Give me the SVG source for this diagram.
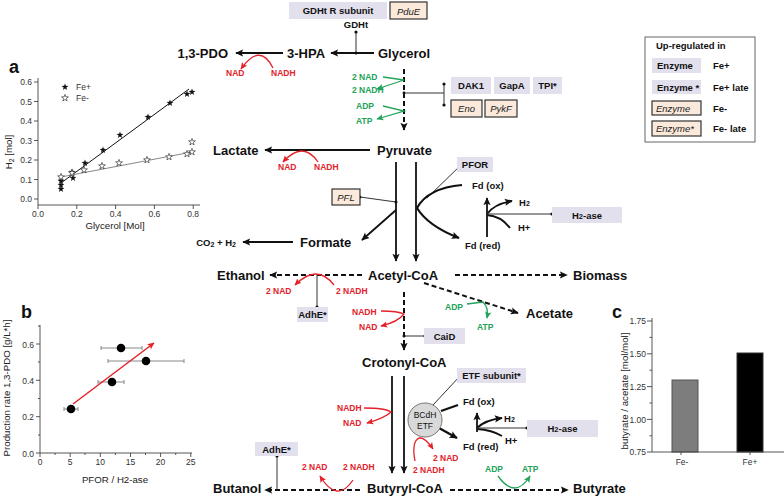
<svg xmlns="http://www.w3.org/2000/svg" width="784" height="498" viewBox="0 0 784 498">
<defs>
<marker id="ak" viewBox="0 0 10 10" refX="9" refY="5" markerWidth="8" markerHeight="8" markerUnits="userSpaceOnUse" orient="auto"><path d="M0,0.5 L10,5 L0,9.5 L2,5 z" fill="#111"/></marker>
<marker id="ar" viewBox="0 0 10 10" refX="9" refY="5" markerWidth="7" markerHeight="7" markerUnits="userSpaceOnUse" orient="auto"><path d="M0,0.5 L10,5 L0,9.5 L2,5 z" fill="#e3222b"/></marker>
<marker id="ag" viewBox="0 0 10 10" refX="9" refY="5" markerWidth="7" markerHeight="7" markerUnits="userSpaceOnUse" orient="auto"><path d="M0,0.5 L10,5 L0,9.5 L2,5 z" fill="#22a359"/></marker>
<path id="star" d="M0,-3.6 L0.85,-1.17 L3.42,-1.11 L1.38,0.45 L2.12,2.91 L0,1.45 L-2.12,2.91 L-1.38,0.45 L-3.42,-1.11 L-0.85,-1.17 Z"/>
</defs>
<style>
text{font-family:"Liberation Sans",Arial,sans-serif}
.m{font-size:13px;font-weight:bold;fill:#111}
.e{font-size:9.5px;font-weight:bold;fill:#111}
.ei{font-size:9.5px;font-style:italic;fill:#222}
.r{font-size:8.5px;font-weight:bold;fill:#e3222b}
.g{font-size:8.5px;font-weight:bold;fill:#22a359}
.lb{fill:#e3e0ee}
.pb{fill:#fbeadb;stroke:#333;stroke-width:1.2}
.ln{fill:none;stroke:#111;stroke-width:1.8}
.bl{fill:none;stroke:#111;stroke-width:2.2}
.ds{fill:none;stroke:#111;stroke-width:2;stroke-dasharray:5 3}
.th{fill:none;stroke:#333;stroke-width:1}
.rc{fill:none;stroke:#e3222b;stroke-width:1.3}
.gc{fill:none;stroke:#22a359;stroke-width:1.3}
.ax{fill:none;stroke:#444;stroke-width:0.9}
.tk{font-size:8.5px;fill:#333}
.al{font-size:9.7px;fill:#222}
.dot{fill:#111}
.pl{font-size:18px;font-weight:bold;fill:#111}
</style>
<rect width="784" height="498" fill="#fff"/>

<!-- ========== Connectors ========== -->
<g id="connectors">
  <!-- top -->
  <path class="th" d="M356,32 V53"/>
  <circle class="dot" cx="356" cy="32" r="1.6"/><circle class="dot" cx="356" cy="53" r="1.6"/>
  <path class="ln" d="M374,53 H331" marker-end="url(#ak)"/>
  <path class="ln" d="M283,53 H236" marker-end="url(#ak)"/>
  <path class="rc" d="M273,68 Q260,42 241,69" marker-end="url(#ar)"/>
  <path class="ds" d="M404,69 V130" marker-end="url(#ak)"/>
  <path class="gc" d="M383,77 L404,80 L377,89" marker-end="url(#ag)"/>
  <path class="gc" d="M383,106 L404,111 L377,119" marker-end="url(#ag)"/>
  <path class="th" d="M404,93 H444 M444,84 V105"/>
  <circle class="dot" cx="444" cy="84" r="1.6"/><circle class="dot" cx="444" cy="105" r="1.6"/><circle class="dot" cx="404" cy="93" r="1.4"/>
  <!-- pyruvate -->
  <path class="ln" d="M370,150 H265" marker-end="url(#ak)"/>
  <path class="rc" d="M318,162 Q303,140 283,162" marker-end="url(#ar)"/>
  <path class="ln" d="M396,162 V261" marker-end="url(#ak)"/>
  <path class="ln" d="M416,162 V261" marker-end="url(#ak)"/>
  <path class="th" d="M360,197 L396,202"/>
  <circle class="dot" cx="360" cy="197" r="1.5"/><circle class="dot" cx="396" cy="202" r="1.5"/>
  <path class="ln" d="M396,210 L362,240" marker-end="url(#ak)"/>
  <path class="ln" d="M293,242 H243" marker-end="url(#ak)"/>
  <path class="th" d="M427,198 L462,164"/>
  <circle class="dot" cx="462" cy="164" r="1.6"/>
  <path class="bl" d="M417,208 Q428,188 462,185"/>
  <path class="bl" d="M417,208 Q428,226 459,238" marker-end="url(#ak)"/>
  <path class="ln" d="M487,237 V198" marker-end="url(#ak)"/>
  <path class="ln" d="M487,214 Q494,204 512,201" marker-end="url(#ak)"/>
  <path class="ln" d="M487,215 Q501,216 510,228"/>
  <path class="th" d="M487,214 H552"/>
  <circle class="dot" cx="552" cy="214" r="1.6"/>
  <!-- acetyl-CoA -->
  <path class="ds" d="M362,275 H270" marker-end="url(#ak)"/>
  <path class="th" d="M317,275 V307"/>
  <circle class="dot" cx="317" cy="307" r="1.6"/>
  <path class="rc" d="M334,285 Q317,263 295,285" marker-end="url(#ar)"/>
  <path class="ds" d="M455,275 H567" marker-end="url(#ak)"/>
  <path class="ds" d="M424,283 L518,313" marker-end="url(#ak)"/>
  <path class="gc" d="M467,304 L483,302 Q489,308 487,318" marker-end="url(#ag)"/>
  <path class="ds" d="M404,292 V350" marker-end="url(#ak)"/>
  <path class="rc" d="M381,311 Q398,311 404,314 Q398,322 381,326" marker-end="url(#ar)"/>
  <path class="th" d="M404,336 H425"/>
  <circle class="dot" cx="404" cy="336" r="1.5"/><circle class="dot" cx="425" cy="336" r="1.6"/>
  <!-- crotonyl-CoA -->
  <path class="ln" d="M392,376 V473" marker-end="url(#ak)"/>
  <path class="ln" d="M404,376 V473" marker-end="url(#ak)"/>
  <path class="rc" d="M364,408 Q385,408 391,412 Q385,418 367,423" marker-end="url(#ar)"/>
  <path class="th" d="M433,405 L460,376"/>
  <circle class="dot" cx="460" cy="376" r="1.6"/>
  <path class="bl" d="M441,411 L458,405"/>
  <path class="bl" d="M439,428 L457,438" marker-end="url(#ak)"/>
  <path class="ln" d="M477,432 V413" marker-end="url(#ak)"/>
  <path class="ln" d="M477,428 Q485,420 502,418" marker-end="url(#ak)"/>
  <path class="ln" d="M477,429 Q492,430 502,436"/>
  <path class="th" d="M477,428 H527"/>
  <circle class="dot" cx="527" cy="428" r="1.6"/>
  <path class="rc" d="M415,461 C411,440 419,428 433,449" marker-end="url(#ar)"/>
  <!-- butyryl-CoA -->
  <path class="ds" d="M360,490 H265" marker-end="url(#ak)"/>
  <path class="th" d="M277,456 V490"/>
  <circle class="dot" cx="277" cy="456" r="1.6"/>
  <path class="rc" d="M353,480 Q337,504 320,476" marker-end="url(#ar)"/>
  <path class="ds" d="M450,490 H568" marker-end="url(#ak)"/>
  <path class="gc" d="M498,476 Q515,500 530,476" marker-end="url(#ag)"/>
</g>

<!-- ========== Nodes ========== -->
<g id="gdht-r"><rect class="lb" x="289" y="2" width="98" height="17"/><text class="e" x="338" y="14" text-anchor="middle" font-size="10">GDHt R subunit</text></g>
<g id="pdue"><rect class="pb" x="390" y="2" width="37" height="17"/><text class="ei" x="408.5" y="14.5" text-anchor="middle" font-size="10">PduE</text></g>
<g id="gdht"><text class="e" x="356" y="28" text-anchor="middle">GDHt</text></g>
<g id="glycerol"><text class="m" x="378" y="58">Glycerol</text></g>
<g id="hpa"><text class="m" x="287" y="58">3-HPA</text></g>
<g id="pdo"><text class="m" x="228" y="58" text-anchor="end">1,3-PDO</text></g>
<g id="cof1"><text class="r" x="226" y="76">NAD</text><text class="r" x="271" y="76">NADH</text></g>
<g id="cof2"><text class="g" x="352" y="80">2 NAD</text><text class="g" x="352" y="93">2 NADH</text><text class="g" x="356" y="109">ADP</text><text class="g" x="356" y="124">ATP</text></g>
<g id="dak1"><rect class="lb" x="451" y="77" width="40" height="17"/><text class="e" x="471" y="89" text-anchor="middle">DAK1</text></g>
<g id="gapa"><rect class="lb" x="494" y="77" width="36" height="17"/><text class="e" x="512" y="89" text-anchor="middle">GapA</text></g>
<g id="tpi"><rect class="lb" x="533" y="77" width="29" height="17"/><text class="e" x="547.5" y="89" text-anchor="middle">TPI*</text></g>
<g id="eno"><rect class="pb" x="451" y="100" width="31" height="17"/><text class="ei" x="466.5" y="112" text-anchor="middle">Eno</text></g>
<g id="pykf"><rect class="pb" x="485" y="100" width="32" height="17"/><text class="ei" x="501" y="112" text-anchor="middle">PykF</text></g>

<g id="pyruvate"><text class="m" x="377" y="155">Pyruvate</text></g>
<g id="lactate"><text class="m" x="213" y="155">Lactate</text></g>
<g id="cof3"><text class="r" x="278" y="170">NAD</text><text class="r" x="314" y="170">NADH</text></g>
<g id="pfl"><rect class="pb" x="332" y="189" width="28" height="16"/><text class="ei" x="346" y="201" text-anchor="middle">PFL</text></g>
<g id="formate"><text class="m" x="300" y="247">Formate</text></g>
<g id="co2"><text class="e" x="236" y="246" text-anchor="end" font-size="10">CO<tspan font-size="7" dy="1">2</tspan><tspan dy="-1"> + H</tspan><tspan font-size="7" dy="1">2</tspan></text></g>
<g id="pfor"><rect class="lb" x="457" y="157" width="36" height="15"/><text class="e" x="475" y="168" text-anchor="middle">PFOR</text></g>
<g id="fd1"><text class="e" x="472" y="189">Fd (ox)</text><text class="e" x="465" y="249">Fd (red)</text><text class="e" x="519" y="206">H<tspan font-size="7">2</tspan></text><text class="e" x="518" y="231">H+</text></g>
<g id="h2ase1"><rect class="lb" x="552" y="207" width="70" height="16"/><text class="e" x="587" y="218.5" text-anchor="middle">H<tspan font-size="7.5">2</tspan>-ase</text></g>

<g id="acetylcoa"><text class="m" x="368" y="280">Acetyl-CoA</text></g>
<g id="ethanol"><text class="m" x="217" y="280">Ethanol</text></g>
<g id="biomass"><text class="m" x="573" y="280">Biomass</text></g>
<g id="acetate"><text class="m" x="526" y="318">Acetate</text></g>
<g id="cof4"><text class="r" x="266" y="294">2 NAD</text><text class="r" x="336" y="294">2 NADH</text></g>
<g id="adhe1"><rect class="lb" x="297" y="307" width="31" height="15"/><text class="e" x="312.5" y="318" text-anchor="middle">AdhE*</text></g>
<g id="cof5"><text class="g" x="445" y="310">ADP</text><text class="g" x="477" y="330">ATP</text></g>
<g id="cof6"><text class="r" x="352" y="315">NADH</text><text class="r" x="359" y="330">NAD</text></g>
<g id="caid"><rect class="lb" x="424" y="328" width="41" height="16"/><text class="e" x="444.5" y="340" text-anchor="middle">CaiD</text></g>

<g id="crotonylcoa"><text class="m" x="362" y="367">Crotonyl-CoA</text></g>
<g id="cof7"><text class="r" x="337" y="411">NADH</text><text class="r" x="343" y="426">NAD</text></g>
<g id="etfsub"><rect class="lb" x="457" y="368" width="69" height="15"/><text class="e" x="491.5" y="379" text-anchor="middle">ETF subunit*</text></g>
<g id="bcdh"><circle cx="425" cy="420" r="17" fill="#d9d9d9" stroke="#777" stroke-width="1"/><text x="425" y="418" text-anchor="middle" font-size="8.5" fill="#111">BCdH</text><text x="425" y="429" text-anchor="middle" font-size="8.5" fill="#111">ETF</text></g>
<g id="fd2"><text class="e" x="463" y="405">Fd (ox)</text><text class="e" x="463" y="450">Fd (red)</text><text class="e" x="504" y="422">H<tspan font-size="7">2</tspan></text><text class="e" x="505" y="444">H+</text></g>
<g id="h2ase2"><rect class="lb" x="527" y="420" width="71" height="17"/><text class="e" x="562.5" y="432" text-anchor="middle">H<tspan font-size="7.5">2</tspan>-ase</text></g>
<g id="cof8"><text class="r" x="433" y="461">2 NAD</text><text class="r" x="413" y="473">2 NADH</text></g>

<g id="butyrylcoa"><text class="m" x="367" y="493">Butyryl-CoA</text></g>
<g id="butanol"><text class="m" x="213" y="493">Butanol</text></g>
<g id="butyrate"><text class="m" x="573" y="493">Butyrate</text></g>
<g id="adhe2"><rect class="lb" x="255" y="442" width="43" height="14"/><text class="e" x="276.5" y="453" text-anchor="middle">AdhE*</text></g>
<g id="cof9"><text class="r" x="302" y="470">2 NAD</text><text class="r" x="343" y="470">2 NADH</text></g>
<g id="cof10"><text class="g" x="485" y="472">ADP</text><text class="g" x="522" y="472">ATP</text></g>

<!-- Legend -->
<g id="legend">
  <rect x="645" y="37" width="110" height="105" fill="#fff" stroke="#666" stroke-width="1"/>
  <text class="e" x="656" y="49" font-size="9.3">Up-regulated in</text>
  <rect class="lb" x="652" y="58" width="49" height="15"/><text class="e" x="657" y="69" font-size="9">Enzyme</text><text class="e" x="713" y="69" font-size="9">Fe+</text>
  <rect class="lb" x="652" y="80" width="49" height="14"/><text class="e" x="657" y="91" font-size="9">Enzyme *</text><text class="e" x="713" y="91" font-size="9">Fe+ late</text>
  <rect class="pb" x="652" y="101" width="49" height="14"/><text class="ei" x="656" y="112" font-size="9" fill="#555">Enzyme</text><text class="e" x="713" y="112" font-size="9">Fe-</text>
  <rect class="pb" x="652" y="121" width="49" height="15"/><text class="ei" x="656" y="132" font-size="9" fill="#555">Enzyme*</text><text class="e" x="713" y="132" font-size="9">Fe- late</text>
</g>

<!-- Plot a -->
<g id="plot-a">
  <text class="pl" x="9" y="73">a</text>
  <path class="ax" d="M38,78 V205 H200"/>
  <path class="ax" d="M34,82 H38 M34,101.5 H38 M34,121 H38 M34,140.5 H38 M34,160 H38 M34,179.5 H38 M34,199 H38"/>
  <path class="ax" d="M38,205 V209 M76.8,205 V209 M115.6,205 V209 M154.4,205 V209 M193.2,205 V209"/>
  <g class="tk" text-anchor="end">
    <text x="32" y="85">0.6</text><text x="32" y="104.5">0.5</text><text x="32" y="124">0.4</text><text x="32" y="143.5">0.3</text><text x="32" y="163">0.2</text><text x="32" y="182.5">0.1</text><text x="32" y="202">0.0</text>
  </g>
  <g class="tk" text-anchor="middle">
    <text x="38" y="217">0.0</text><text x="76.8" y="217">0.2</text><text x="115.6" y="217">0.4</text><text x="154.4" y="217">0.6</text><text x="193.2" y="217">0.8</text>
  </g>
  <text class="al" x="115" y="229" text-anchor="middle">Glycerol [Mol]</text>
  <text class="al" transform="translate(12,152) rotate(-90)" text-anchor="middle">H<tspan font-size="7" dy="2">2</tspan><tspan dy="-2"> [mol]</tspan></text>
  <path d="M61,183 L189,89" stroke="#111" stroke-width="1" fill="none"/>
  <path d="M61,177 L192,152" stroke="#888" stroke-width="1" fill="none"/>
  <g fill="#111">
    <use href="#star" x="61" y="189"/><use href="#star" x="61" y="185"/><use href="#star" x="61" y="181"/><use href="#star" x="72" y="172"/><use href="#star" x="73" y="178"/><use href="#star" x="85" y="163"/><use href="#star" x="103" y="150"/><use href="#star" x="120" y="135"/><use href="#star" x="148" y="117"/><use href="#star" x="170" y="103"/><use href="#star" x="187" y="94"/><use href="#star" x="192" y="92"/>
    <use href="#star" x="65" y="87"/>
  </g>
  <g fill="#fff" stroke="#333" stroke-width="0.7">
    <use href="#star" x="61" y="177"/><use href="#star" x="72" y="173"/><use href="#star" x="84" y="170"/><use href="#star" x="102" y="166"/><use href="#star" x="119" y="163"/><use href="#star" x="147" y="160"/><use href="#star" x="169" y="157"/><use href="#star" x="187" y="154"/><use href="#star" x="192" y="152"/><use href="#star" x="192" y="142"/>
    <use href="#star" x="65" y="98"/>
  </g>
  <text class="tk" x="76" y="90">Fe+</text><text class="tk" x="76" y="101">Fe-</text>
</g>

<!-- Plot b -->
<g id="plot-b">
  <text class="pl" x="21" y="318">b</text>
  <path class="ax" d="M40,325 V453 H192"/>
  <path class="ax" d="M36,453 H40 M36,416.7 H40 M36,380.3 H40 M36,344 H40 M38,435 H40 M38,398.5 H40 M38,362 H40 M38,326 H40"/>
  <path class="ax" d="M40,453 V457 M70.2,453 V457 M100.3,453 V457 M130.5,453 V457 M160.6,453 V457 M190.8,453 V457 M55,453 V455 M85,453 V455 M115.4,453 V455 M145.5,453 V455 M175.7,453 V455"/>
  <g class="tk" text-anchor="end" font-size="9.5">
    <text x="34" y="456.5">0.0</text><text x="34" y="420">0.2</text><text x="34" y="383.5">0.4</text><text x="34" y="347.5">0.6</text>
  </g>
  <g class="tk" text-anchor="middle" font-size="9.5">
    <text x="40" y="465">0</text><text x="70.2" y="465">5</text><text x="100.3" y="465">10</text><text x="130.5" y="465">15</text><text x="160.6" y="465">20</text><text x="190.8" y="465">25</text>
  </g>
  <text class="al" x="115" y="483" text-anchor="middle">PFOR / H2-ase</text>
  <text class="al" transform="translate(10,388) rotate(-90)" text-anchor="middle">Production rate 1,3-PDO [g/L*h]</text>
  <g stroke="#888" stroke-width="1" fill="none">
    <path d="M64,409 H78 M64,407 V411 M78,407 V411"/>
    <path d="M98,382 H124 M98,380 V384 M124,380 V384"/>
    <path d="M101,348 H142 M101,346 V350 M142,346 V350"/>
    <path d="M108,361 H184 M108,359 V363 M184,359 V363"/>
  </g>
  <g fill="#000">
    <circle cx="71" cy="409" r="4.3"/><circle cx="112" cy="382" r="4.3"/><circle cx="121" cy="348" r="4.3"/><circle cx="146" cy="361" r="4.3"/>
  </g>
  <path d="M73,404 L154,343" stroke="#e3222b" stroke-width="1.5" fill="none" marker-end="url(#ar)"/>
</g>

<!-- Plot c -->
<g id="plot-c">
  <text class="pl" x="612" y="318">c</text>
  <rect x="672" y="380" width="26" height="72" fill="#7d7d7d" stroke="#555" stroke-width="1"/>
  <rect x="737" y="353" width="26" height="99" fill="#000" stroke="#333" stroke-width="1"/>
  <path class="ax" d="M652,318 V452 H784"/>
  <path class="ax" d="M647,321 H652 M647,353.8 H652 M647,386.6 H652 M647,419.4 H652 M647,452 H652 M649.5,337.4 H652 M649.5,370.2 H652 M649.5,403 H652 M649.5,435.8 H652"/>
  <path class="ax" d="M681,452 V455 M750,452 V455"/>
  <g class="tk" text-anchor="end" font-size="8.7">
    <text x="646" y="324">1.75</text><text x="646" y="357">1.50</text><text x="646" y="389.5">1.25</text><text x="646" y="422.5">1.00</text><text x="646" y="455">0.75</text>
  </g>
  <g class="tk" text-anchor="middle" font-size="9">
    <text x="682" y="465">Fe-</text><text x="750" y="465">Fe+</text>
  </g>
  <text class="al" transform="translate(628,391) rotate(-90)" text-anchor="middle">butyrate / acetate [mol/mol]</text>
</g>
</svg>
